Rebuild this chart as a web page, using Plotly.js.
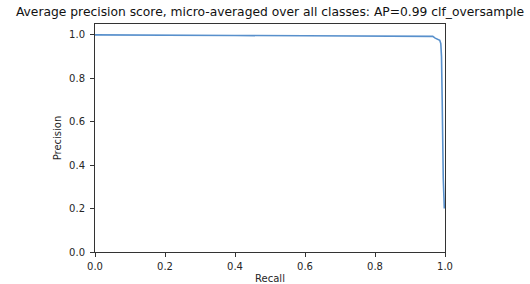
<!DOCTYPE html>
<html>
<head>
<meta charset="utf-8">
<script src="https://cdn.plot.ly/plotly-3.0.1.min.js"></script>
<style>html,body{margin:0;padding:0;background:#fff;}#chart{width:530px;height:284px;}</style>
</head>
<body>
<div id="chart"></div>
<script>
const recall = [0, 0.22, 0.222, 0.40, 0.60, 0.96, 0.965, 0.972, 0.985, 0.988, 0.990, 0.992, 0.993, 0.995, 0.997, 0.998];
const precision = [1.0, 1.0, 0.998, 0.997, 0.996, 0.996, 0.993, 0.985, 0.975, 0.96, 0.90, 0.70, 0.51, 0.34, 0.25, 0.20];
const tickVals = [0, 0.2, 0.4, 0.6, 0.8, 1.0];
const tickText = ["0.0", "0.2", "0.4", "0.6", "0.8", "1.0"];
const titleText = "Average precision score, micro-averaged over all classes: AP=0.99 clf_oversample";

const font = {family: "DejaVu Sans", size: 10, color: "#262626"};
const axisCommon = {
  showgrid: false, zeroline: false, showline: true, mirror: true,
  linecolor: "#333", linewidth: 1, ticks: "outside", ticklen: 4, tickwidth: 1,
  tickcolor: "#333", tickvals: tickVals, ticktext: tickText, tickfont: font
};
Plotly.newPlot("chart", [{
  x: recall, y: precision, type: "scatter", mode: "lines",
  line: {color: "#5890cc", width: 1.6}, hoverinfo: "skip"
}], {
  width: 530, height: 284,
  margin: {l: 95, r: 85, t: 24, b: 32},
  paper_bgcolor: "#fff", plot_bgcolor: "#fff",
  showlegend: false,
  title: {text: titleText, font: {family: "DejaVu Sans", size: 12.3, color: "#111"},
    xref: "paper", x: 0.5, xanchor: "center", yref: "container", y: 1 - 12/284, yanchor: "middle"},
  xaxis: Object.assign({}, axisCommon, {range: [0, 1.0], ticklabelstandoff: 1,
    title: {text: "Recall", font: font, standoff: 6}}),
  yaxis: Object.assign({}, axisCommon, {range: [0, 1.05], ticklabelstandoff: 3,
    title: {text: "Precision", font: font, standoff: 5}})
}, {staticPlot: true});
</script>
</body>
</html>
